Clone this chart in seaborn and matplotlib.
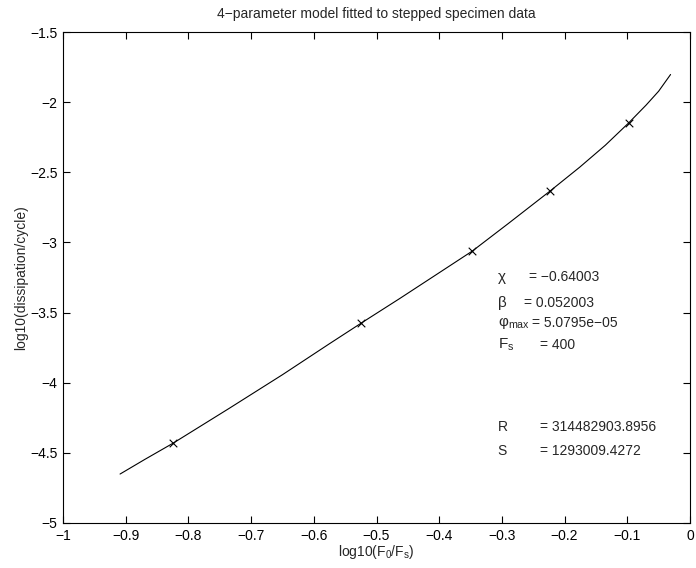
import matplotlib
matplotlib.use("Agg")
from matplotlib import pyplot as plt
import seaborn as sns
import pandas as pd

# fitted model curve
curve_x = [-0.909, -0.870, -0.824, -0.735, -0.650, -0.575, -0.524, -0.463, -0.400, -0.347,
           -0.290, -0.223, -0.176, -0.135, -0.098, -0.070, -0.050, -0.031]
curve_y = [-4.651, -4.548, -4.430, -4.183, -3.943, -3.722, -3.574, -3.400, -3.216, -3.061,
           -2.866, -2.633, -2.464, -2.307, -2.149, -2.021, -1.922, -1.803]

# measured stepped specimen points
data_x = [-0.824, -0.524, -0.347, -0.223, -0.098]
data_y = [-4.430, -3.574, -3.061, -2.633, -2.149]

x_ticks = [-1, -0.9, -0.8, -0.7, -0.6, -0.5, -0.4, -0.3, -0.2, -0.1, 0]
x_labels = ["\u22121", "\u22120.9", "\u22120.8", "\u22120.7", "\u22120.6", "\u22120.5",
            "\u22120.4", "\u22120.3", "\u22120.2", "\u22120.1", "0"]
y_ticks = [-5, -4.5, -4, -3.5, -3, -2.5, -2, -1.5]
y_labels = ["\u22125", "\u22124.5", "\u22124", "\u22123.5", "\u22123", "\u22122.5", "\u22122", "\u22121.5"]

param_names = ["\u03c7", "\u03b2", "\u03c6$_{max}$", "F$_s$"]
param_values = ["= \u22120.64003", "= 0.052003", "= 5.0795e\u221205", "= 400"]
fit_names = ["R", "S"]
fit_values = ["= 314482903.8956", "= 1293009.4272"]

sns.set_style("ticks")
plt.rcParams['font.family'] = ['Liberation Sans', 'DejaVu Sans']
plt.rcParams['mathtext.fontset'] = 'custom'
plt.rcParams['mathtext.rm'] = 'Liberation Sans'
plt.rcParams['mathtext.it'] = 'Liberation Sans'
plt.rcParams['font.size'] = 10

curve_df = pd.DataFrame({'x': curve_x, 'y': curve_y})
pts_df = pd.DataFrame({'x': data_x, 'y': data_y})

fig = plt.figure(figsize=(6.96, 5.68), dpi=100)
ax = fig.add_axes([63 / 696, 45 / 568, 627 / 696, 491 / 568])

sns.lineplot(data=curve_df, x='x', y='y', ax=ax, sort=False, estimator=None,
             color='black', linewidth=0.8)
sns.scatterplot(data=pts_df, x='x', y='y', ax=ax, marker='x', color='black',
                s=30, linewidth=0.8)

ax.set_xlim(-1, 0)
ax.set_ylim(-5, -1.5)
ax.set_xticks(x_ticks)
ax.set_xticklabels(x_labels)
ax.set_yticks(y_ticks)
ax.set_yticklabels(y_labels)
ax.tick_params(direction='in', top=True, right=True, length=5, width=0.8,
               labelsize=10, colors='black', pad=4)
for sp in ax.spines.values():
    sp.set_linewidth(0.8)
    sp.set_color('black')

ax.set_xlabel("log10(F$_0$/F$_s$)", fontsize=10, labelpad=0)
ax.set_ylabel("log10(dissipation/cycle)", fontsize=10, labelpad=1)
ax.set_title("4\u2212parameter model fitted to stepped specimen data", fontsize=10, pad=10)

name_x = -0.307
val_x = [-0.2563, -0.2643, -0.2516, -0.2388]
row_y = [-3.246, -3.432, -3.574, -3.731]
for n, v, vx, ry in zip(param_names, param_values, val_x, row_y):
    ax.text(name_x, ry, n, fontsize=11, va='center', ha='left')
    ax.text(vx, ry, v, fontsize=10, va='center', ha='left')

fit_y = [-4.316, -4.487]
for n, v, ry in zip(fit_names, fit_values, fit_y):
    ax.text(name_x, ry, n, fontsize=10, va='center', ha='left')
    ax.text(-0.240, ry, v, fontsize=10, va='center', ha='left')

plt.savefig("out.png", dpi=100)
